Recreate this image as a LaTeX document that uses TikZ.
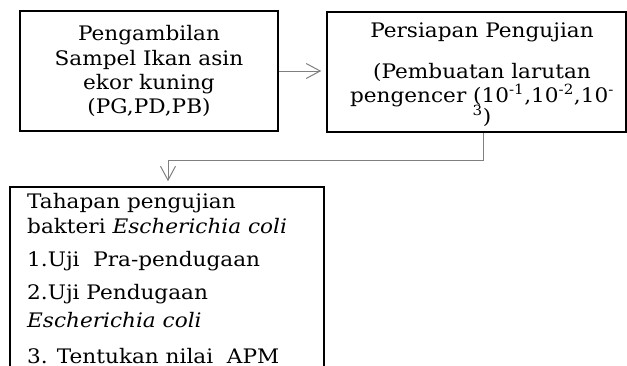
\documentclass[tikz,border=0pt]{standalone}
\usepackage{fontspec}
\setmainfont{DejaVu Serif}[FakeStretch=1.08]
\usetikzlibrary{arrows.meta}
\begin{document}
\begin{tikzpicture}[x=1pt,y=-1pt,
  box/.style={draw=black, line width=1.5pt, inner sep=0pt},
  conn/.style={draw=black!50, line width=1pt, -{Straight Barb[length=14pt,width=15pt,line width=1pt]}},
  txt/.style={font=\fontsize{20}{24}\selectfont, anchor=base, inner sep=0pt, text=black},
  ltxt/.style={txt, anchor=base west}]
\clip (0,0) rectangle (627,365);
\node[box, minimum width=258pt, minimum height=120pt] (b1) at (149,71) {};
\node[box, minimum width=299pt, minimum height=120pt] (b2) at (476.5,72) {};
\node[box, minimum width=314pt, minimum height=240pt] (b3) at (167,307) {};
% box 1 text
\node[txt] (t11) at (149,40.5) {Pengambilan};
\node[txt] (t12) at (149,65) {Sampel Ikan asin};
\node[txt] (t13) at (149,89) {ekor kuning};
\node[txt] (t14) at (149,113) {(PG,PD,PB)};
% box 2 text
\node[txt] (t21) at (482,37) {Persiapan Pengujian};
\node[txt] (t22) at (482,78) {(Pembuatan larutan};
\node[txt] (t23) at (482,102) {pengencer (10\textsuperscript{-1},10\textsuperscript{-2},10\textsuperscript{-}};
\node[txt] (t24) at (482,123) {\textsuperscript{3})};
% box 3 text
\node[ltxt] (t31) at (27,208) {Tahapan pengujian};
\node[ltxt] (t32) at (27,233) {bakteri \textit{Escherichia coli}};
\node[ltxt] (t33) at (27,266) {1.Uji\ \ Pra-pendugaan};
\node[ltxt] (t34) at (27,299) {2.Uji Pendugaan};
\node[ltxt] (t35) at (27,327) {\textit{Escherichia coli}};
\node[ltxt] (t36) at (27,363) {3. Tentukan nilai\ \ APM};
% connectors
\coordinate (c1) at (483,160);
\coordinate (c2) at (168,160);
\draw[conn, shorten >=5pt] (b1.east) -- (b1.east -| b2.west);
\draw[conn, shorten >=5pt] (b2.south -| c1) -- (c1) -- (c2) -- (b3.north -| c2);
\end{tikzpicture}
\end{document}
